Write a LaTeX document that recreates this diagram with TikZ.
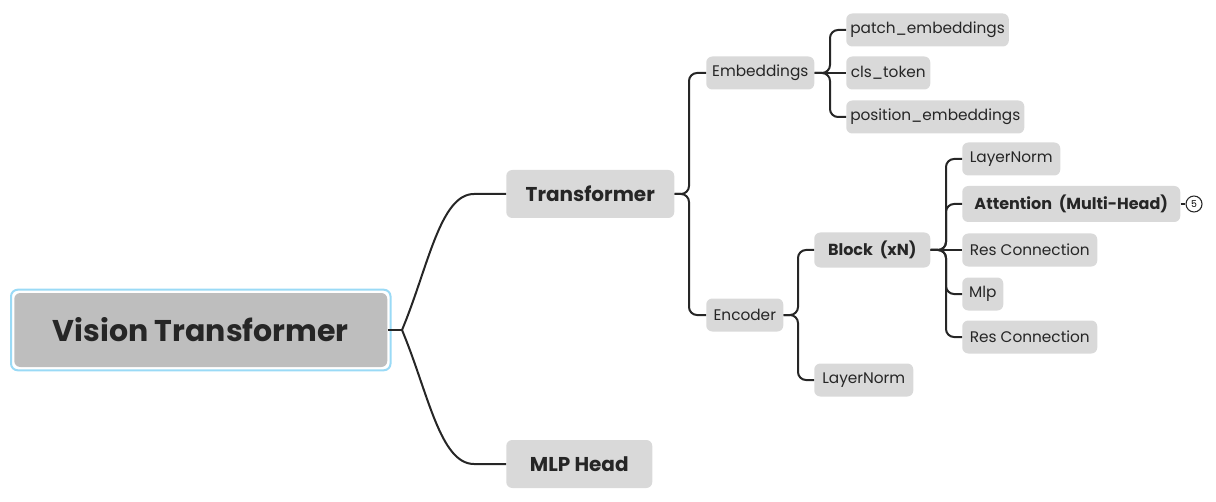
\documentclass[tikz,border=0pt]{standalone}
\usepackage{fontspec}
\setmainfont{Poppins}
\definecolor{boxgrey}{HTML}{D9D9D9}
\definecolor{rootgrey}{HTML}{BEBEBE}
\definecolor{ringblue}{HTML}{9ADAF6}
\definecolor{inkdark}{HTML}{262626}
\tikzset{
  boxw/.style={minimum width=#1*0.75pt},
  topic/.style={fill=boxgrey, rounded corners=4.5pt, text=inkdark, inner xsep=3pt, inner ysep=0pt, anchor=west},
  leaf/.style={topic, minimum height=24.75pt, font=\fontsize{11.5}{13}\selectfont},
  boldleaf/.style={leaf, font=\fontsize{12}{13}\selectfont\bfseries},
  branch/.style={topic, minimum height=36pt, font=\fontsize{15}{18}\selectfont\bfseries},
  wire/.style={draw=inkdark, line width=1.5pt, rounded corners=6pt},
}
\begin{document}
\begin{tikzpicture}[x=0.75pt,y=-0.75pt]
\useasboundingbox (0,0) rectangle (1216,502);
% central topic
\node[topic, fill=rootgrey, boxw=373, minimum height=55.5pt, font=\fontsize{22.5}{28}\selectfont\bfseries] (vit) at (14,330) {Vision Transformer};
\draw[ringblue, line width=1.5pt, rounded corners=5pt] ([shift={(-3,-3)}]vit.north west) rectangle ([shift={(3,3)}]vit.south east);
% main branches
\node[branch, boxw=168] (trans) at (506,194) {Transformer};
\node[branch, boxw=146] (head) at (506,464) {MLP Head};
% transformer children
\node[leaf, boxw=108] (emb) at (706,73) {Embeddings};
\node[leaf, boxw=77] (enc) at (706,315) {Encoder};
% embeddings children
\node[leaf, boxw=157] (patch) at (846,30) {patch\_embeddings};
\node[leaf, boxw=84] (cls) at (846,73) {cls\_token};
\node[leaf, boxw=175] (pos) at (846,117) {position\_embeddings};
% encoder children
\node[boldleaf, boxw=116, minimum height=26.25pt] (block) at (814,250) {Block\ \ (xN)};
\node[leaf, boxw=99] (lnorm) at (814,380) {LayerNorm};
% block children
\node[leaf, boxw=98] (bnorm) at (962,159) {LayerNorm};
\node[boldleaf, boxw=218, minimum height=27pt] (attn) at (962,204) {Attention\ \ (Multi-Head)};
\node[leaf, boxw=135] (resa) at (962,250) {Res Connection};
\node[leaf, boxw=41] (mlp) at (962,294) {Mlp};
\node[leaf, boxw=135] (resb) at (962,337) {Res Connection};
\node[draw=inkdark, circle, line width=0.8pt, minimum size=12pt, inner sep=0pt, font=\fontsize{7}{8}\selectfont] (five) at (1194,204) {5};
% connectors
\coordinate (hub) at (402,330);
\draw[wire] (vit.east) -- (hub);
\draw[wire] (hub) .. controls (428,268) and (440,194) .. (482,194) -- (trans.west);
\draw[wire] (hub) .. controls (428,392) and (440,464) .. (482,464) -- (head.west);
\draw[wire] (trans.east) -- (689,194) |- (emb.west);
\draw[wire] (trans.east) -- (689,194) |- (enc.west);
\draw[wire] (emb.east) -- (830,73) |- (patch.west);
\draw[wire] (emb.east) -- (cls.west);
\draw[wire] (emb.east) -- (830,73) |- (pos.west);
\draw[wire] (enc.east) -- (798,315) |- (block.west);
\draw[wire] (enc.east) -- (798,315) |- (lnorm.west);
\draw[wire] (block.east) -- (946,250) |- (bnorm.west);
\draw[wire] (block.east) -- (946,250) |- (attn.west);
\draw[wire] (block.east) -- (resa.west);
\draw[wire] (block.east) -- (946,250) |- (mlp.west);
\draw[wire] (block.east) -- (946,250) |- (resb.west);
\draw[wire, line width=1pt] (attn.east) -- (five.west);
\end{tikzpicture}
\end{document}
